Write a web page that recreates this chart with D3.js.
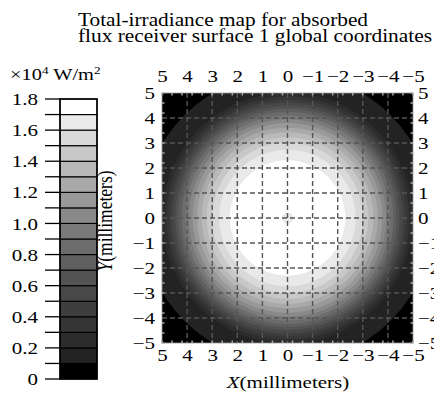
<!DOCTYPE html>
<html><head><meta charset="utf-8">
<script src="https://cdn.jsdelivr.net/npm/d3@7"></script>
<style>body{margin:0;background:#fff}svg{display:block}text{font-family:"Liberation Serif","Times New Roman",serif;fill:#000}</style>
</head><body><svg id="c" width="434" height="398"></svg>
<script>
// ---- data ----
const titleLines = ["Total-irradiance map for absorbed", "flux receiver surface 1 global coordinates"];
const axisTicks = [5, 4, 3, 2, 1, 0, -1, -2, -3, -4, -5];
const gridValues = [4, 3, 2, 1, 0, -1, -2, -3, -4];
const colorbarLabels = [0, 0.2, 0.4, 0.6, 0.8, 1.0, 1.2, 1.4, 1.6, 1.8];
const colorbarLevels = [0, 0.1, 0.2, 0.3, 0.4, 0.5, 0.6, 0.7, 0.8, 0.9, 1.0, 1.1, 1.2, 1.3, 1.4, 1.5, 1.6, 1.7, 1.8];
const bandColors = ["#000000","#232323","#2c2c2c","#353535","#3e3e3e","#484848","#535353","#5f5f5f","#6c6c6c","#7a7a7a","#898989","#999999","#a9a9a9","#b9b9b9","#c8c8c8","#d9d9d9","#e9e9e9","#ffffff"];
// irradiance level (x10^4 W/m^2) and the radius (mm) inside which it is reached
const contourLevels = [0.1, 0.2, 0.3, 0.4, 0.5, 0.6, 0.7, 0.8, 0.9, 1.0, 1.1, 1.2, 1.3, 1.4, 1.5, 1.6, 1.7];
const contourRadii  = [5.8, 5.0, 4.85, 4.72, 4.6, 4.47, 4.35, 4.22, 4.08, 3.93, 3.78, 3.6, 3.42, 3.22, 3.0, 2.72, 2.3];
const centerDip = {radius: 0.22, level: 1.6};

// ---- layout ----
const svg = d3.select("#c");
const SX = 1.2;
const P = {l: 162, r: 413, t: 93, b: 343};
const x = d3.scaleLinear().domain([5, -5]).range([P.l, P.r]);
const y = d3.scaleLinear().domain([5, -5]).range([P.t, P.b]);
const fmt = d => d3.format("")(d);

function stretch(sel, ax, ay, s) {
  sel.attr("transform", `translate(${ax},${ay}) scale(${s},1) translate(${-ax},${-ay})`);
}

// title
titleLines.forEach((t, i) => {
  svg.append("text").attr("x", 78).attr("y", 26 + i * 16)
    .attr("font-size", 18).attr("textLength", i === 0 ? 290 : 354)
    .attr("lengthAdjust", "spacingAndGlyphs").text(t);
});

// ---- heatmap ----
svg.append("clipPath").attr("id", "pc").append("rect")
  .attr("x", P.l).attr("y", P.t).attr("width", P.r - P.l).attr("height", P.b - P.t);
const hm = svg.append("g").attr("clip-path", "url(#pc)");
hm.append("rect").attr("x", P.l).attr("y", P.t).attr("width", P.r - P.l).attr("height", P.b - P.t)
  .attr("fill", bandColors[0]);
const bandIndex = v => Math.round(v * 10);
hm.selectAll("circle.ring").data(contourLevels.map((l, i) => ({l, r: contourRadii[i]})))
  .join("circle").attr("class", "ring")
  .attr("cx", x(0)).attr("cy", y(0))
  .attr("r", d => Math.abs(x(d.r) - x(0)))
  .attr("fill", d => bandColors[bandIndex(d.l)]);
hm.append("circle").attr("cx", x(0)).attr("cy", y(0))
  .attr("r", Math.abs(x(centerDip.radius) - x(0))).attr("fill", bandColors[bandIndex(centerDip.level)]);

// grid
const grid = svg.append("g").attr("stroke", "#555").attr("stroke-width", 1.4).attr("stroke-dasharray", "5,3");
grid.selectAll("line.v").data(gridValues).join("line").attr("class", "v")
  .attr("x1", d => x(d)).attr("x2", d => x(d)).attr("y1", P.t).attr("y2", P.b);
grid.selectAll("line.h").data(gridValues).join("line").attr("class", "h")
  .attr("y1", d => y(d)).attr("y2", d => y(d)).attr("x1", P.l).attr("x2", P.r);

// minor edge ticks
const minor = d3.range(0, 26).map(i => 5 - i * 0.4).filter(v => v >= -5);
const mt = svg.append("g").attr("stroke", "#aaa").attr("stroke-width", 1.5);
minor.forEach(v => {
  mt.append("line").attr("x1", x(v)).attr("x2", x(v)).attr("y1", P.t).attr("y2", P.t + 2.5);
  mt.append("line").attr("x1", x(v)).attr("x2", x(v)).attr("y1", P.b).attr("y2", P.b - 2.5);
  mt.append("line").attr("y1", y(v)).attr("y2", y(v)).attr("x1", P.l).attr("x2", P.l + 2.5);
  mt.append("line").attr("y1", y(v)).attr("y2", y(v)).attr("x1", P.r).attr("x2", P.r - 2.5);
});
svg.append("rect").attr("x", P.l).attr("y", P.t).attr("width", P.r - P.l).attr("height", P.b - P.t)
  .attr("fill", "none").attr("stroke", "#999").attr("stroke-width", 0.8);

// axes
function styleAxis(g) {
  g.select(".domain").remove();
  g.selectAll(".tick line").remove();
  g.selectAll("text").attr("font-size", 17.5).attr("fill", "#000")
    .each(function() {
      const t = d3.select(this);
      const tx = +t.attr("x") || 0;
      stretch(t, tx, 0, SX);
    });
}
svg.append("g").attr("transform", `translate(0,${P.t})`)
  .call(d3.axisTop(x).tickValues(axisTicks).tickSize(0).tickPadding(11).tickFormat(fmt)).call(styleAxis);
svg.append("g").attr("transform", `translate(0,${P.b})`)
  .call(d3.axisBottom(x).tickValues(axisTicks).tickSize(0).tickPadding(6).tickFormat(fmt)).call(styleAxis);
svg.append("g").attr("transform", `translate(${P.l},0)`)
  .call(d3.axisLeft(y).tickValues(axisTicks).tickSize(0).tickPadding(7).tickFormat(fmt)).call(styleAxis);
svg.append("g").attr("transform", `translate(${P.r},0)`)
  .call(d3.axisRight(y).tickValues(axisTicks).tickSize(0).tickPadding(5).tickFormat(fmt)).call(styleAxis);

// axis titles
const xt = svg.append("text").attr("x", 288).attr("y", 388).attr("text-anchor", "middle")
  .attr("font-size", 17.5);
xt.append("tspan").attr("font-style", "italic").text("X");
xt.append("tspan").text("(millimeters)");
stretch(xt, 288, 388, SX);
const yt = svg.append("text").attr("text-anchor", "middle").attr("font-size", 17.5)
  .attr("transform", `translate(112,221) scale(${SX},1) rotate(-90)`);
yt.append("tspan").attr("font-style", "italic").text("Y");
yt.append("tspan").text("(millimeters)");

// ---- colorbar ----
const cb = {x0: 60, x1: 97};
const c = d3.scaleLinear().domain([0, 1.8]).range([379, 99]);
const bands = colorbarLevels.slice(0, -1);
svg.append("g").selectAll("rect").data(bands).join("rect")
  .attr("x", cb.x0).attr("width", cb.x1 - cb.x0)
  .attr("y", d => c(d + 0.1)).attr("height", d => c(d) - c(d + 0.1))
  .attr("fill", (d, i) => bandColors[i]).attr("stroke", "#000").attr("stroke-width", 1.1);
svg.append("g").selectAll("line").data(colorbarLevels).join("line")
  .attr("x1", 45).attr("x2", cb.x0).attr("y1", d => c(d)).attr("y2", d => c(d))
  .attr("stroke", "#000").attr("stroke-width", 1.3);
svg.append("rect").attr("x", cb.x0).attr("y", c(1.8)).attr("width", cb.x1 - cb.x0).attr("height", c(0) - c(1.8))
  .attr("fill", "none").attr("stroke", "#000").attr("stroke-width", 1.5);
svg.append("g").selectAll("text").data(colorbarLabels).join("text")
  .attr("x", 38).attr("y", d => c(d)).attr("dy", "0.35em").attr("text-anchor", "end")
  .attr("font-size", 17.5).text(d => d === 0 ? "0" : d.toFixed(1))
  .each(function(d) { stretch(d3.select(this), 38, 0, SX); });
const ul = svg.append("text").attr("x", 10).attr("y", 80).attr("font-size", 17);
ul.append("tspan").text("×10");
ul.append("tspan").attr("font-size", 11).attr("dy", -6).text("4");
ul.append("tspan").attr("dy", 6).text(" W/m");
ul.append("tspan").attr("font-size", 11).attr("dy", -6).text("2");
stretch(ul, 10, 80, SX);
</script></body></html>
